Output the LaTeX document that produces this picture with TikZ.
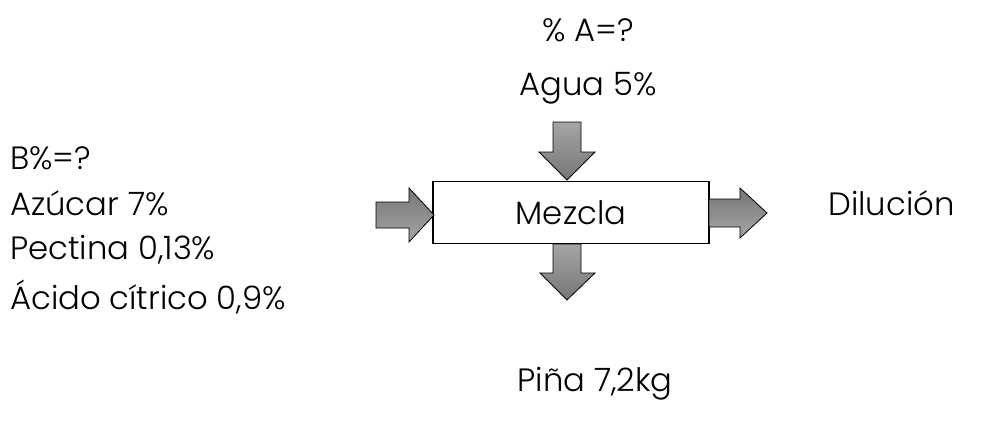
\documentclass[tikz,border=0pt]{standalone}
\usepackage{fontspec}
\setmainfont{Poppins}[UprightFont=* Light]
\usepackage{xcolor}
\usetikzlibrary{positioning, calc}
\definecolor{arrowlight}{RGB}{165, 165, 165}
\definecolor{arrowdark}{RGB}{118, 118, 118}

\begin{document}
\begin{tikzpicture}[
    x=0.75pt, y=-0.75pt,
    every node/.style={font=\fontsize{24.2}{28}\selectfont, inner sep=0pt},
    procbox/.style={draw=black, fill=white, line width=0.8pt, minimum width=207pt, minimum height=47pt},
    blockarrow/.style={draw=black, line width=0.6pt, top color=arrowlight, bottom color=arrowdark},
    sidearrow/.style={draw=black, line width=0.6pt, top color=arrowdark, bottom color=arrowlight},
    lbl/.style={anchor=west}
]
\useasboundingbox (0,0) rectangle (987,428);

% Process box
\node[procbox] (mix) at (571,212.5) {Mezcla};

% Block arrows around the box
\draw[blockarrow] (553,122) -- (581,122) -- (581,152) -- (595,152) -- (567,180) -- (539,152) -- (553,152) -- cycle;
\draw[blockarrow] (553,244) -- (581,244) -- (581,273) -- (595,273) -- (567,300) -- (540,273) -- (553,273) -- cycle;
\draw[sidearrow] (376,202) -- (409,202) -- (409,188) -- (434,215) -- (409,242) -- (409,228) -- (376,228) -- cycle;
\draw[sidearrow] (709,199) -- (740,199) -- (740,188) -- (767,213) -- (740,238) -- (740,227) -- (709,227) -- cycle;

% Top inputs
\node (pctA) at (588,30) {\% A=?};
\node (agua) at (588,88) {Agua 5\%};

% Left inputs
\node[lbl] (pctB) at (10,158) {B\%=?};
\node[lbl] (azucar) at (10,203) {Azúcar 7\%};
\node[lbl] (pectina) at (10,250) {Pectina 0,13\%};
\node[lbl] (acido) at (10,297) {Ácido cítrico 0,9\%};

% Outputs
\node[lbl] (dil) at (828,203) {Dilución};
\node (pina) at (595,384) {Piña 7,2kg};

\end{tikzpicture}
\end{document}
